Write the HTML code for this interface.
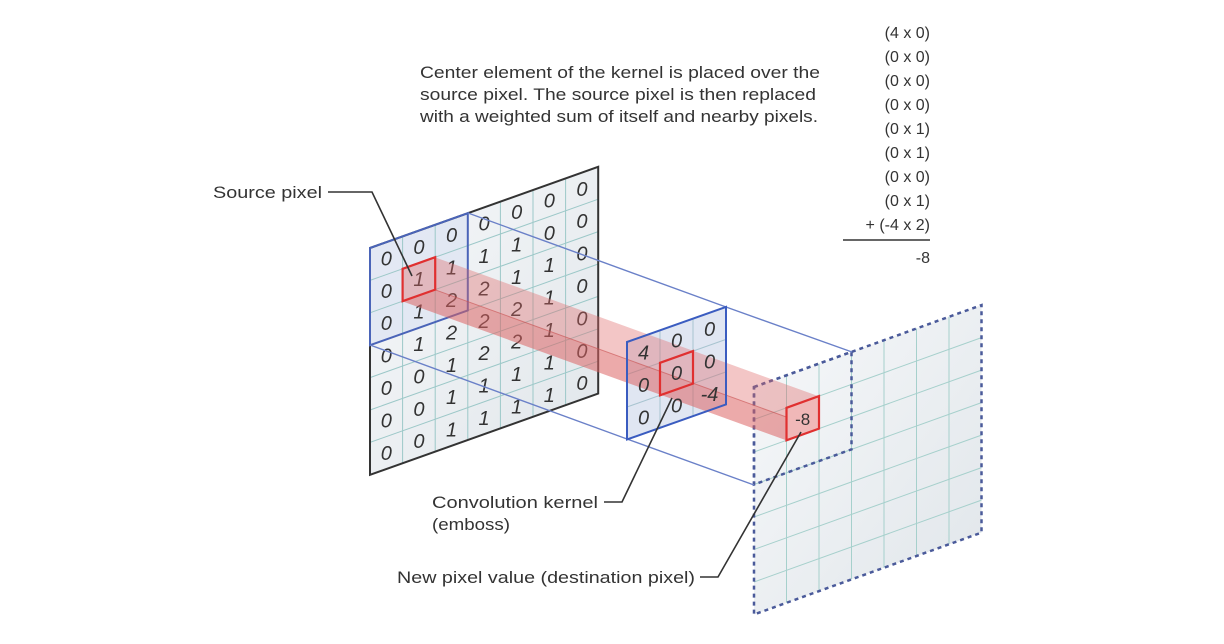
<!DOCTYPE html>
<html><head><meta charset="utf-8"><style>
html,body{margin:0;padding:0;background:#fff;}
svg{display:block;}
text{font-family:"Liberation Sans",sans-serif;}
</style></head><body>
<svg width="1224" height="644" viewBox="0 0 1224 644">
<defs>
<linearGradient id="cellg" x1="0" y1="0" x2="1" y2="1">
<stop offset="0" stop-color="#f4f6f8"/><stop offset="1" stop-color="#e3e8ec"/>
</linearGradient>
</defs>
<!-- top paragraph -->
<g font-size="17" fill="#333">
<text x="420" y="78" textLength="400" lengthAdjust="spacingAndGlyphs">Center element of the kernel is placed over the</text>
<text x="420" y="100" textLength="396" lengthAdjust="spacingAndGlyphs">source pixel. The source pixel is then replaced</text>
<text x="420" y="122" textLength="398" lengthAdjust="spacingAndGlyphs">with a weighted sum of itself and nearby pixels.</text>
</g>
<g font-size="16" fill="#333" text-anchor="end">
<text x="930" y="38">(4 x 0)</text>
<text x="930" y="62">(0 x 0)</text>
<text x="930" y="86">(0 x 0)</text>
<text x="930" y="110">(0 x 0)</text>
<text x="930" y="134">(0 x 1)</text>
<text x="930" y="158">(0 x 1)</text>
<text x="930" y="182">(0 x 0)</text>
<text x="930" y="206">(0 x 1)</text>
<text x="930" y="230">+ (-4 x 2)</text>
<text x="930" y="263">-8</text>
</g>
<line x1="843" y1="240" x2="930" y2="240" stroke="#666" stroke-width="2"/>

<!-- source grid -->
<g transform="matrix(32.6,-11.6,0,32.4,370,248)">
<rect x="0" y="0" width="7" height="7" fill="url(#cellg)"/>
<rect x="0" y="0" width="3" height="3" fill="#dfe5f2" opacity="0.8"/>
<path d="M1 0V7M2 0V7M3 0V7M4 0V7M5 0V7M6 0V7M0 1H7M0 2H7M0 3H7M0 4H7M0 5H7M0 6H7" stroke="#9cc8c8" stroke-width="1" vector-effect="non-scaling-stroke" fill="none"/>
<rect x="0" y="0" width="7" height="7" fill="none" stroke="#333" stroke-width="2" vector-effect="non-scaling-stroke"/>
<rect x="0" y="0" width="3" height="3" fill="none" stroke="#4a64b8" stroke-width="2" vector-effect="non-scaling-stroke"/>
</g>
<g font-size="20" fill="#333" text-anchor="middle" font-style="italic">
<g transform="translate(386.3,258.4)"><text y="7">0</text><text y="39.4">0</text><text y="71.8">0</text><text y="104.2">0</text><text y="136.6">0</text><text y="169">0</text><text y="201.4">0</text></g>
<g transform="translate(418.9,246.8)"><text y="7">0</text><text y="39.4">1</text><text y="71.8">1</text><text y="104.2">1</text><text y="136.6">0</text><text y="169">0</text><text y="201.4">0</text></g>
<g transform="translate(451.5,235.2)"><text y="7">0</text><text y="39.4">1</text><text y="71.8">2</text><text y="104.2">2</text><text y="136.6">1</text><text y="169">1</text><text y="201.4">1</text></g>
<g transform="translate(484.1,223.6)"><text y="7">0</text><text y="39.4">1</text><text y="71.8">2</text><text y="104.2">2</text><text y="136.6">2</text><text y="169">1</text><text y="201.4">1</text></g>
<g transform="translate(516.7,212)"><text y="7">0</text><text y="39.4">1</text><text y="71.8">1</text><text y="104.2">2</text><text y="136.6">2</text><text y="169">1</text><text y="201.4">1</text></g>
<g transform="translate(549.3,200.4)"><text y="7">0</text><text y="39.4">0</text><text y="71.8">1</text><text y="104.2">1</text><text y="136.6">1</text><text y="169">1</text><text y="201.4">1</text></g>
<g transform="translate(581.9,188.8)"><text y="7">0</text><text y="39.4">0</text><text y="71.8">0</text><text y="104.2">0</text><text y="136.6">0</text><text y="169">0</text><text y="201.4">0</text></g>
</g>

<!-- destination grid -->
<g transform="matrix(32.5,-11.7,0,32.5,754,387)">
<rect x="0" y="0" width="7" height="7" fill="url(#cellg)"/>
<path d="M1 0V7M2 0V7M3 0V7M4 0V7M5 0V7M6 0V7M0 1H7M0 2H7M0 3H7M0 4H7M0 5H7M0 6H7" stroke="#a6d0cc" stroke-width="1" vector-effect="non-scaling-stroke" fill="none"/>
<rect x="0" y="0" width="7" height="7" fill="none" stroke="#4a5a9a" stroke-width="2.5" stroke-dasharray="4 4" vector-effect="non-scaling-stroke"/>
<rect x="0" y="0" width="3" height="3" fill="none" stroke="#4a5a9a" stroke-width="2.5" stroke-dasharray="4 4" vector-effect="non-scaling-stroke"/>
</g>

<!-- blue connector lines -->
<g stroke="#6a80c8" stroke-width="1.4" fill="none">
<line x1="468" y1="213" x2="726" y2="307"/>
<line x1="370" y1="345" x2="627" y2="439"/>
<line x1="726" y1="307" x2="852" y2="352"/>
<line x1="627" y1="439" x2="754" y2="485"/>
</g>

<!-- kernel -->
<g transform="matrix(33,-11.7,0,32.5,627,342)">
<rect x="0" y="0" width="3" height="3" fill="#dbe2f0" opacity="0.85"/>
<path d="M1 0V3M2 0V3M0 1H3M0 2H3" stroke="#a8c4d0" stroke-width="1" vector-effect="non-scaling-stroke" fill="none"/>
</g>

<!-- red bar -->
<polygon points="402.6,269 435.2,257.4 819,396.4 819,428.8 786.5,440.4 402.6,301.4" fill="#e06a6a" opacity="0.38"/>
<polygon points="435.2,289.8 819,428.8 786.5,440.4 402.6,301.4" fill="#d85858" opacity="0.25"/>
<line x1="435.2" y1="289.8" x2="819" y2="428.8" stroke="#c85050" stroke-width="1" opacity="0.6"/>

<g transform="matrix(33,-11.7,0,32.5,627,342)">
<rect x="0" y="0" width="3" height="3" fill="none" stroke="#3a5cc0" stroke-width="2" vector-effect="non-scaling-stroke"/>
<rect x="1" y="1" width="1" height="1" fill="none" stroke="#e03030" stroke-width="2.2" vector-effect="non-scaling-stroke"/>
</g>
<g font-size="20" fill="#333" text-anchor="middle" font-style="italic">
<g transform="translate(643.5,352.4)"><text y="7">4</text><text y="39.5">0</text><text y="72">0</text></g>
<g transform="translate(676.5,340.7)"><text y="7">0</text><text y="39.5">0</text><text y="72">0</text></g>
<g transform="translate(709.5,329)"><text y="7">0</text><text y="39.5">0</text><text y="72">-4</text></g>
</g>
<g transform="matrix(32.6,-11.6,0,32.4,370,248)">
<rect x="1" y="1" width="1" height="1" fill="none" stroke="#e03030" stroke-width="2.2" vector-effect="non-scaling-stroke"/>
</g>
<g transform="matrix(32.5,-11.7,0,32.5,754,387)">
<rect x="1" y="1" width="1" height="1" fill="#f0b8b8" stroke="#e03030" stroke-width="2.2" vector-effect="non-scaling-stroke"/>
</g>
<text x="802.7" y="425" font-size="17" text-anchor="middle" fill="#333">-8</text>

<!-- callouts -->
<g stroke="#333" stroke-width="1.6" fill="none">
<polyline points="328,192 372,192 412,276"/>
<polyline points="604,502 622,502 672,398"/>
<polyline points="700,577 718,577 801,432"/>
</g>
<g font-size="17" fill="#333">
<text x="213" y="198" textLength="109" lengthAdjust="spacingAndGlyphs">Source pixel</text>
<text x="432" y="508" textLength="166" lengthAdjust="spacingAndGlyphs">Convolution kernel</text>
<text x="432" y="530" textLength="78" lengthAdjust="spacingAndGlyphs">(emboss)</text>
<text x="397" y="583" textLength="298" lengthAdjust="spacingAndGlyphs">New pixel value (destination pixel)</text>
</g>
</svg>
</body></html>
